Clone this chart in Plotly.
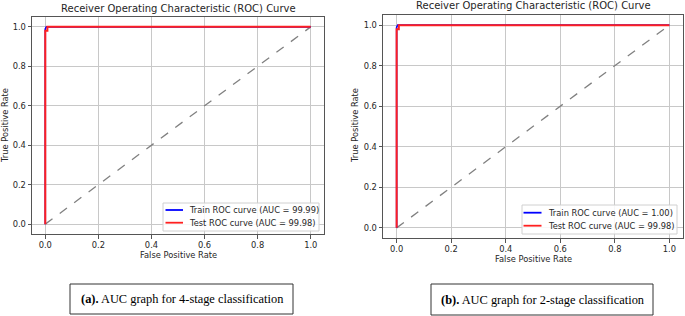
import plotly.graph_objects as go

# ---- data ----
train_fpr_a = [0.0, 0.0, 0.004, 1.0]
train_tpr_a = [0.0, 0.99, 1.0, 1.0]
test_fpr_a = [0.0, 0.0, 0.008, 0.008, 1.0]
test_tpr_a = [0.0, 0.98, 0.98, 1.0, 1.0]

train_fpr_b = [0.0, 0.0, 0.004, 1.0]
train_tpr_b = [0.0, 0.99, 1.0, 1.0]
test_fpr_b = [0.0, 0.0, 0.008, 0.008, 1.0]
test_tpr_b = [0.0, 0.98, 0.98, 1.0, 1.0]

diag = [0.0, 1.0]
ticks = [0.0, 0.2, 0.4, 0.6, 0.8, 1.0]
tick_text = ["0.0", "0.2", "0.4", "0.6", "0.8", "1.0"]

train_label_a = "Train ROC curve (AUC = 99.99)"
test_label_a = "Test ROC curve (AUC = 99.98)"
train_label_b = "Train ROC curve (AUC = 1.00)"
test_label_b = "Test ROC curve (AUC = 99.98)"

title = "Receiver Operating Characteristic (ROC) Curve"
caption_a = "<b>(a).</b> AUC graph for 4-stage classification"
caption_b = "<b>(b).</b> AUC graph for 2-stage classification"

W, H = 685, 316
FONT = "DejaVu Sans"
TXT = "#262626"
FS = 8.3
BLUE = "#0000ff"
RED = "#ff2020"

fig = go.Figure()

def px(x):
    return x / W

def py(y):
    return 1 - y / H

# Panel A
fig.add_trace(go.Scatter(x=diag, y=diag, mode="lines", line=dict(color="gray", dash="dash", width=1.3),
                         showlegend=False, xaxis="x", yaxis="y", hoverinfo="skip"))
fig.add_trace(go.Scatter(x=train_fpr_a, y=train_tpr_a, mode="lines", line=dict(color=BLUE, width=1.6),
                         name=train_label_a, xaxis="x", yaxis="y", showlegend=False))
fig.add_trace(go.Scatter(x=test_fpr_a, y=test_tpr_a, mode="lines", line=dict(color=RED, width=2),
                         name=test_label_a, xaxis="x", yaxis="y", showlegend=False))
# Panel B
fig.add_trace(go.Scatter(x=diag, y=diag, mode="lines", line=dict(color="gray", dash="dash", width=1.3),
                         showlegend=False, xaxis="x2", yaxis="y2", hoverinfo="skip"))
fig.add_trace(go.Scatter(x=train_fpr_b, y=train_tpr_b, mode="lines", line=dict(color=BLUE, width=1.6),
                         name=train_label_b, xaxis="x2", yaxis="y2", showlegend=False))
fig.add_trace(go.Scatter(x=test_fpr_b, y=test_tpr_b, mode="lines", line=dict(color=RED, width=2),
                         name=test_label_b, xaxis="x2", yaxis="y2", showlegend=False))

axis_common = dict(range=[-0.05, 1.05], tickvals=ticks, ticktext=tick_text, showgrid=True,
                   gridcolor="#c8c8c8", gridwidth=1, zeroline=False, showline=True, mirror=True,
                   linecolor="#555555", linewidth=1, ticks="outside", ticklen=3.5, tickcolor="#555555",
                   tickfont=dict(family=FONT, size=FS, color=TXT))

fig.update_layout(
    width=W, height=H, margin=dict(l=0, r=0, t=0, b=0),
    paper_bgcolor="white", plot_bgcolor="white", showlegend=False,
    xaxis=dict(domain=[px(32), px(324)], anchor="y", **axis_common),
    yaxis=dict(domain=[py(234), py(17)], anchor="x", **axis_common),
    xaxis2=dict(domain=[px(383), px(683)], anchor="y2", **axis_common),
    yaxis2=dict(domain=[py(238), py(15)], anchor="x2", **axis_common),
)

ann = []
def text(x, y, s, size, angle=0, family=FONT, color=TXT, xanchor="center"):
    ann.append(dict(x=px(x), y=py(y), xref="paper", yref="paper", text=s, showarrow=False,
                    textangle=angle, xanchor=xanchor, yanchor="middle",
                    font=dict(family=family, size=size, color=color)))

text(178, 8, title, 10)
text(533, 6, title, 10)
text(178, 255, "False Positive Rate", FS)
text(533, 259, "False Positive Rate", FS)
text(5, 126, "True Positive Rate", FS, angle=-90)
text(355, 126, "True Positive Rate", FS, angle=-90)
text(181.5, 299, caption_a, 12.4, family="Liberation Serif", color="black")
text(542, 299.5, caption_b, 12.4, family="Liberation Serif", color="black")

# caption boxes
fig.add_shape(type="rect", xref="paper", yref="paper", x0=px(70), x1=px(293), y0=py(314), y1=py(284),
              line=dict(color="#333333", width=1))
fig.add_shape(type="rect", xref="paper", yref="paper", x0=px(431), x1=px(653), y0=py(315), y1=py(284),
              line=dict(color="#333333", width=1))

# legends (matplotlib-style boxes)
def legend(x0, x1, y0, y1, lx0, lx1, ly1, ly2, tx, lab1, lab2):
    fig.add_shape(type="rect", xref="paper", yref="paper", x0=px(x0), x1=px(x1), y0=py(y1), y1=py(y0),
                  line=dict(color="#d0d0d0", width=1), fillcolor="rgba(255,255,255,0.85)", layer="above")
    fig.add_shape(type="line", xref="paper", yref="paper", x0=px(lx0), x1=px(lx1), y0=py(ly1), y1=py(ly1),
                  line=dict(color=BLUE, width=1.8), layer="above")
    fig.add_shape(type="line", xref="paper", yref="paper", x0=px(lx0), x1=px(lx1), y0=py(ly2), y1=py(ly2),
                  line=dict(color=RED, width=1.8), layer="above")
    text(tx, ly1, lab1, FS, xanchor="left")
    text(tx, ly2, lab2, FS, xanchor="left")

legend(163, 319, 203, 231, 165.5, 183, 210, 222.7, 187, train_label_a, test_label_a)
legend(522, 677, 205, 234, 523.5, 541.5, 212.7, 225.7, 546, train_label_b, test_label_b)

fig.update_layout(annotations=ann)

fig.write_html("out.html", config={"displayModeBar": False},
               post_script="document.body.style.margin='0';document.body.style.overflow='hidden';")
